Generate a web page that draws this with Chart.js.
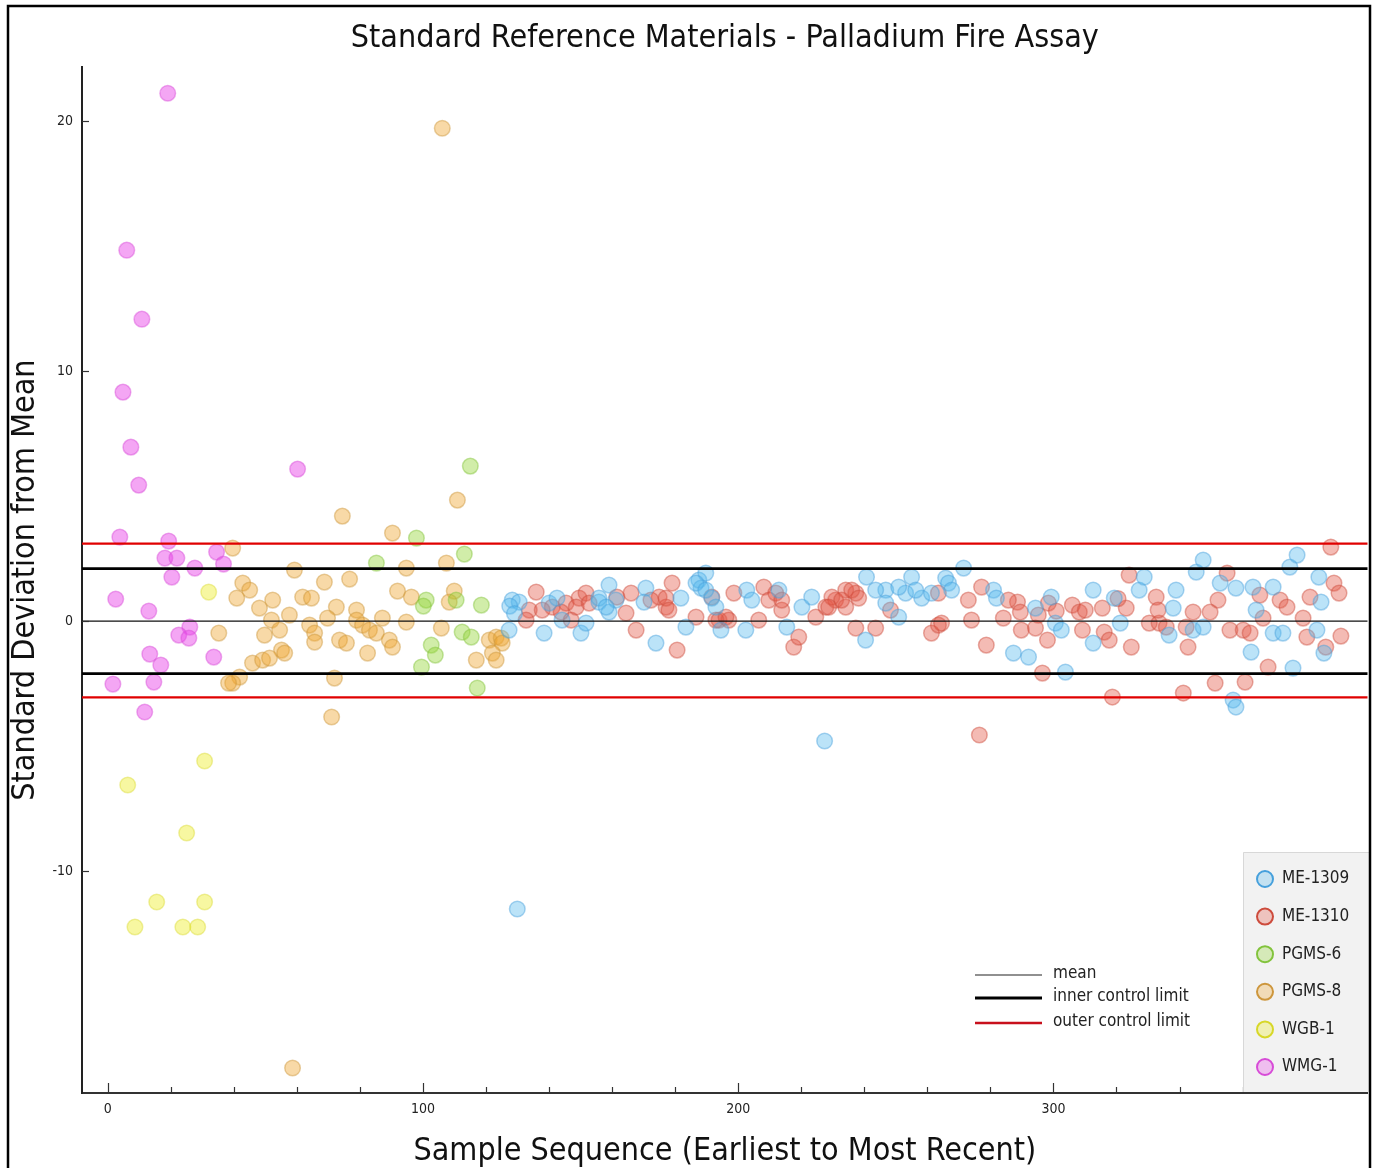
<!DOCTYPE html>
<html>
<head>
<meta charset="utf-8">
<script src="https://cdn.jsdelivr.net/npm/chart.js@4/dist/chart.umd.min.js"></script>
<style>
  html, body { margin: 0; padding: 0; background: #fff; }
  canvas { display: block; }
</style>
</head>
<body>
<canvas id="srmChart" width="1377" height="1168"></canvas>
<script>
// [sample number, std deviations from mean]
const me1309 = [
  [128.3, 0.84], [127.3, -0.36], [130.5, 0.76], [138.4, -0.48], [140.0, 0.72], [142.5, 0.92],
  [144.1, 0.04], [150.1, -0.48], [151.7, -0.08], [155.8, 0.76], [159.0, 1.44], [159.0, 0.36],
  [161.2, 0.84], [170.7, 1.32], [170.1, 0.76], [173.9, -0.88], [181.8, 0.92], [183.4, -0.24],
  [187.5, 1.64], [189.7, 1.92], [188.2, 1.32], [191.6, 0.92], [194.5, -0.36], [202.7, 1.24],
  [202.4, -0.36], [204.3, 0.84], [212.9, 1.24], [215.4, -0.24], [220.2, 0.56], [223.3, 0.96],
  [227.4, -4.8], [240.7, 1.76], [240.4, -0.76], [246.8, 1.24], [246.8, 0.72], [250.9, 0.16],
  [253.1, 1.12], [255.0, 1.76], [258.2, 0.92], [265.8, 1.72], [266.7, 1.52], [267.7, 1.24],
  [271.5, 2.12], [281.0, 1.24], [281.9, 0.92], [287.3, -1.28], [292.1, -1.44], [294.3, 0.52],
  [299.3, 0.96], [300.6, -0.08], [302.5, -0.36], [303.8, -2.04], [312.6, 1.24], [312.6, -0.88],
  [319.3, 0.92], [321.2, -0.08], [327.2, 1.24], [328.8, 1.76], [336.7, -0.56], [338.0, 0.52],
  [338.9, 1.24], [344.3, -0.36], [345.3, 1.96], [347.5, 2.44], [347.5, -0.24], [352.9, 1.52],
  [357.0, -3.16], [357.9, -3.44], [357.9, 1.32], [362.7, -1.24], [363.3, 1.36], [364.3, 0.44],
  [369.7, 1.36], [369.7, -0.48], [372.8, -0.48], [375.0, 2.16], [376.0, -1.88], [377.3, 2.64],
  [383.6, -0.36], [384.2, 1.76], [384.9, 0.76], [385.8, -1.28], [129.9, -11.52],
  [186.6, 1.52], [189.7, 1.24], [192.9, 0.56], [243.6, 1.24], [250.9, 1.36], [256.3, 1.24],
  [261.3, 1.12], [155.8, 0.92], [158.1, 0.56], [127.5, 0.6], [129.0, 0.3]
];
const me1310 = [
  [133.7, 0.44], [135.9, 1.16], [132.7, 0.04], [141.0, 0.56], [145.4, 0.72], [147.0, 0.04],
  [149.5, 0.92], [151.7, 1.12], [161.5, 0.96], [164.4, 0.32], [166.0, 1.12], [167.6, -0.36],
  [174.9, 0.96], [177.1, 0.56], [179.0, 1.52], [180.6, -1.16], [186.6, 0.16], [191.6, 0.96],
  [193.9, 0.04], [197.0, 0.04], [198.6, 1.12], [206.5, 0.04], [208.1, 1.36], [209.7, 0.84],
  [213.8, 0.44], [217.6, -1.04], [219.2, -0.64], [224.6, 0.16], [227.8, 0.56], [230.9, 0.84],
  [234.1, 1.24], [234.1, 0.56], [237.3, 1.12], [237.3, -0.28], [243.6, -0.28], [248.3, 0.44],
  [261.3, -0.48], [263.5, -0.16], [263.5, 1.12], [264.5, -0.08], [273.0, 0.84], [274.0, 0.04],
  [276.5, -4.56], [277.2, 1.36], [278.7, -0.96], [284.1, 0.12], [288.6, 0.76], [289.5, 0.36],
  [289.8, -0.36], [294.3, -0.28], [296.5, -2.08], [298.1, -0.76], [298.4, 0.72], [306.0, 0.64],
  [308.2, 0.36], [309.2, -0.36], [310.1, 0.44], [315.5, 0.52], [316.1, -0.44], [317.7, -0.76],
  [318.7, -3.04], [323.1, 0.52], [324.0, 1.84], [324.7, -1.04], [330.4, -0.08], [332.6, 0.96],
  [333.5, -0.08], [335.8, -0.24], [341.2, -2.88], [342.1, -0.24], [342.7, -1.04], [344.3, 0.36],
  [349.7, 0.36], [351.3, -2.48], [352.2, 0.84], [355.1, 1.92], [356.0, -0.36], [360.2, -0.36],
  [360.8, -2.44], [362.4, -0.48], [365.5, 1.04], [366.5, 0.12], [368.1, -1.84], [371.9, 0.84],
  [374.1, 0.56], [379.2, 0.12], [380.4, -0.64], [381.4, 0.96], [386.4, -1.04], [388.0, 2.96],
  [389.0, 1.52], [390.6, 1.12], [391.2, -0.6],
  [137.8, 0.44], [143.8, 0.36], [148.6, 0.56], [152.7, 0.72], [172.3, 0.84], [177.1, 0.92],
  [178.0, 0.44], [192.9, 0.04], [196.1, 0.16], [211.9, 1.12], [213.8, 0.84], [229.7, 0.96],
  [232.8, 0.84], [236.0, 1.24], [238.2, 0.92], [228.7, 0.56], [285.7, 0.84], [295.2, 0.24],
  [333.2, 0.44], [300.9, 0.4], [320.5, 0.9]
];
const pgms6 = [
  [115.0, 6.2], [113.1, 2.68], [97.9, 3.32], [85.2, 2.32], [101.0, 0.84], [100.1, 0.6],
  [118.5, 0.64], [110.5, 0.84], [112.4, -0.44], [115.3, -0.64], [102.6, -0.96], [103.9, -1.36],
  [99.5, -1.84], [117.2, -2.68]
];
const pgms8 = [
  [106.1, 19.72], [58.6, -17.88], [74.4, 4.2], [110.9, 4.84], [90.3, 3.52], [71.0, -3.84],
  [39.6, 2.92], [59.2, 2.04], [68.7, 1.56], [76.7, 1.68], [94.7, 2.12], [107.4, 2.32],
  [42.8, 1.52], [45.0, 1.24], [40.9, 0.92], [52.3, 0.84], [61.8, 0.96], [64.6, 0.92],
  [91.9, 1.2], [96.3, 0.96], [109.9, 1.2], [108.3, 0.76], [48.1, 0.52], [57.6, 0.24],
  [72.5, 0.56], [78.9, 0.44], [51.9, 0.04], [64.0, -0.16], [69.7, 0.12], [78.9, 0.04],
  [80.8, -0.16], [87.1, 0.12], [94.7, -0.04], [49.7, -0.56], [54.5, -0.36], [65.6, -0.48],
  [65.6, -0.84], [73.5, -0.76], [75.7, -0.88], [83.0, -0.36], [85.2, -0.48], [89.3, -0.76],
  [90.3, -1.04], [105.8, -0.28], [35.2, -0.48], [55.1, -1.16], [56.1, -1.28], [82.4, -1.28],
  [116.9, -1.56], [121.0, -0.76], [123.2, -0.64], [124.8, -0.68], [125.1, -0.88], [122.0, -1.28],
  [123.2, -1.56], [45.9, -1.68], [49.1, -1.56], [51.3, -1.48], [41.8, -2.24], [39.6, -2.48],
  [38.3, -2.48], [71.9, -2.28]
];
const wgb1 = [
  [32.0, 1.16], [30.7, -5.6], [6.3, -6.56], [25.0, -8.48], [15.5, -11.24], [30.7, -11.24],
  [8.6, -12.24], [23.8, -12.24], [28.5, -12.24]
];
const wmg1 = [
  [19.0, 21.12], [6.0, 14.84], [10.8, 12.08], [4.8, 9.16], [7.3, 6.96], [9.8, 5.44],
  [60.2, 6.08], [3.8, 3.36], [19.3, 3.2], [18.1, 2.52], [21.9, 2.52], [27.6, 2.12],
  [34.5, 2.76], [36.7, 2.28], [20.3, 1.76], [2.5, 0.88], [13.0, 0.4], [26.0, -0.24],
  [22.5, -0.56], [25.7, -0.68], [13.3, -1.32], [16.8, -1.76], [33.6, -1.44], [1.6, -2.52],
  [14.6, -2.44], [11.7, -3.64]
];

const seriesNames = ["ME-1309", "ME-1310", "PGMS-6", "PGMS-8", "WGB-1", "WMG-1"];
const seriesData = [me1309, me1310, pgms6, pgms8, wgb1, wmg1];
const seriesFill = [
  "rgba(85,185,238,0.4)", "rgba(228,85,68,0.4)", "rgba(145,212,50,0.42)",
  "rgba(238,165,45,0.42)", "rgba(235,235,30,0.42)", "rgba(232,70,232,0.48)"
];
const seriesEdge = [
  "rgba(70,160,220,0.45)", "rgba(205,75,60,0.45)", "rgba(130,195,60,0.45)",
  "rgba(205,150,60,0.45)", "rgba(215,215,40,0.4)", "rgba(215,75,215,0.45)"
];

const xMin = -8.2, xMax = 399.7;
const yMin = -18.88, yMax = 22.16;
const meanLine = 0;
const innerLimits = [2.1, -2.1];
const outerLimits = [3.1, -3.05];

const fontFace = "'DejaVu Sans Condensed', 'Liberation Sans', sans-serif";

function hLine(y, color, width) {
  return {
    type: "line",
    data: [{ x: xMin, y: y }, { x: xMax, y: y }],
    borderColor: color,
    borderWidth: width,
    pointRadius: 0,
    order: 0,
  };
}

const datasets = seriesNames.map((name, i) => ({
  label: name,
  data: seriesData[i].map((p) => ({ x: p[0], y: p[1] })),
  backgroundColor: seriesFill[i],
  borderColor: seriesEdge[i],
  borderWidth: 1.5,
  pointRadius: 7.8,
  order: 1,
}));
datasets.push(hLine(meanLine, "#111", 1.4));
innerLimits.forEach((v) => datasets.push(hLine(v, "#000", 2.6)));
outerLimits.forEach((v) => datasets.push(hLine(v, "#e00000", 2.2)));

// frame, inward ticks and the two legends
const decorations = {
  id: "decorations",
  afterDraw(chart) {
    const ctx = chart.ctx;
    const area = chart.chartArea;
    const xs = chart.scales.x, ys = chart.scales.y;
    ctx.save();

    // ticks pointing into the plot
    ctx.strokeStyle = "#333";
    ctx.lineWidth = 1.2;
    xs.ticks.forEach((t) => {
      const px = Math.round(xs.getPixelForValue(t.value)) + 0.5;
      const len = t.value % 100 === 0 ? 10 : 6;
      ctx.beginPath();
      ctx.moveTo(px, area.bottom);
      ctx.lineTo(px, area.bottom - len);
      ctx.stroke();
    });
    ys.ticks.forEach((t) => {
      const py = Math.round(ys.getPixelForValue(t.value)) + 0.5;
      ctx.beginPath();
      ctx.moveTo(area.left, py);
      ctx.lineTo(area.left + 7, py);
      ctx.stroke();
    });

    // series legend box
    const bx = 1243, by = 852, bw = 127, bh = 240;
    ctx.fillStyle = "#f2f2f2";
    ctx.fillRect(bx, by, bw, bh);
    ctx.strokeStyle = "#d8d8d8";
    ctx.lineWidth = 1;
    ctx.beginPath();
    ctx.moveTo(bx + 0.5, by + bh);
    ctx.lineTo(bx + 0.5, by + 0.5);
    ctx.lineTo(bx + bw, by + 0.5);
    ctx.stroke();
    ctx.font = "17px " + fontFace;
    ctx.textBaseline = "middle";
    ctx.textAlign = "left";
    seriesNames.forEach((name, i) => {
      const cy = 879 + i * 37.6;
      ctx.beginPath();
      ctx.arc(1265, cy, 8, 0, Math.PI * 2);
      ctx.fillStyle = seriesFill[i].replace(/[\d.]+\)$/, "0.3)");
      ctx.fill();
      ctx.lineWidth = 2;
      ctx.strokeStyle = seriesEdge[i].replace(/[\d.]+\)$/, "1)");
      ctx.stroke();
      ctx.fillStyle = "#222";
      ctx.fillText(name, 1282, cy);
    });

    // control line legend
    const lineKeys = [
      ["mean", "#222", 1.2, 975],
      ["inner control limit", "#000", 3, 998],
      ["outer control limit", "#c8101c", 2.5, 1023],
    ];
    lineKeys.forEach(([label, color, w, y]) => {
      ctx.strokeStyle = color;
      ctx.lineWidth = w;
      ctx.beginPath();
      ctx.moveTo(975, y);
      ctx.lineTo(1042, y);
      ctx.stroke();
      ctx.fillStyle = "#222";
      ctx.fillText(label, 1053, y - 1);
    });

    // outer frame
    ctx.strokeStyle = "#000";
    ctx.lineWidth = 2.5;
    ctx.beginPath();
    ctx.moveTo(8, 1168);
    ctx.lineTo(8, 6);
    ctx.lineTo(1370, 6);
    ctx.lineTo(1370, 1168);
    ctx.stroke();
    ctx.restore();
  },
};

new Chart(document.getElementById("srmChart"), {
  type: "scatter",
  data: { datasets: datasets },
  options: {
    responsive: false,
    animation: false,
    devicePixelRatio: 1,
    layout: { padding: { left: 0, right: 7, top: 0, bottom: 0 } },
    plugins: {
      legend: { display: false },
      tooltip: { enabled: false },
      title: {
        display: true,
        text: "Standard Reference Materials - Palladium Fire Assay",
        fullSize: false,
        color: "#111",
        font: { family: fontFace, size: 32, weight: "normal", lineHeight: 1.1 },
        padding: { top: 21, bottom: 11 },
      },
    },
    scales: {
      x: {
        type: "linear",
        min: xMin,
        max: xMax,
        afterFit: (s) => { s.height = 75; },
        grid: { display: false, drawTicks: false },
        border: { display: true, color: "#333", width: 2 },
        ticks: {
          stepSize: 20,
          includeBounds: false,
          autoSkip: false,
          maxRotation: 0,
          padding: 8,
          color: "#222",
          font: { family: fontFace, size: 14 },
          callback: (v) => (v % 100 === 0 && v < 400 ? String(v) : ""),
        },
        title: {
          display: true,
          text: "Sample Sequence (Earliest to Most Recent)",
          color: "#111",
          font: { family: fontFace, size: 32, lineHeight: 1 },
          padding: { top: 0, bottom: 0 },
        },
      },
      y: {
        type: "linear",
        min: yMin,
        max: yMax,
        afterFit: (s) => { s.width = 82; },
        grid: { display: false, drawTicks: false },
        border: { display: true, color: "#222", width: 2 },
        ticks: {
          stepSize: 10,
          includeBounds: false,
          padding: 9,
          color: "#222",
          font: { family: fontFace, size: 14 },
        },
        title: {
          display: true,
          text: "Standard Deviation from Mean",
          color: "#111",
          font: { family: fontFace, size: 32, lineHeight: 1.2 },
          padding: { top: 6, bottom: 0 },
        },
      },
    },
  },
  plugins: [decorations],
});
</script>
</body>
</html>
